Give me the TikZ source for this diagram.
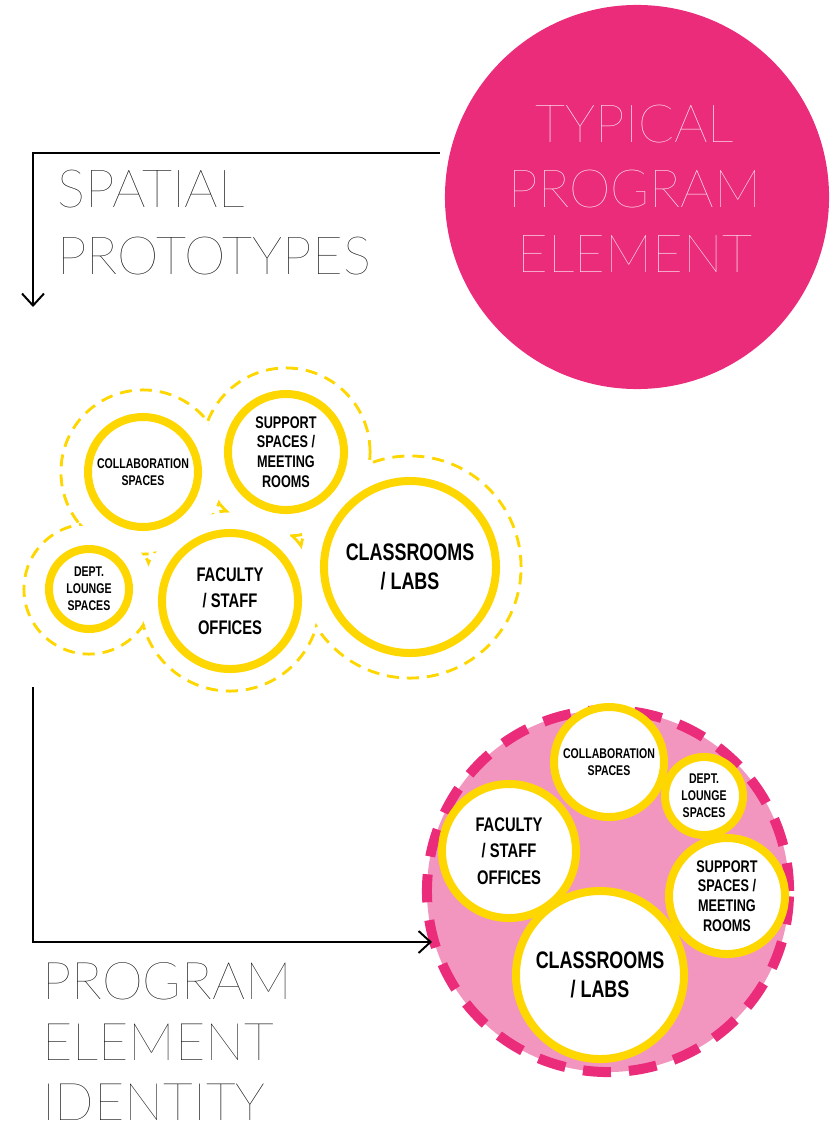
\documentclass[tikz,border=0pt]{standalone}
\usepackage{fontspec}
\setmainfont{Liberation Sans}
\newfontfamily\thinfont{Lato Hairline}
\newfontfamily\condfont{Liberation Sans}[FakeStretch=0.75]
\usetikzlibrary{arrows.meta, positioning}

\definecolor{hotpink}{HTML}{EA2C7B}
\definecolor{softpink}{HTML}{F396BF}
\definecolor{ringyellow}{HTML}{FFD700}

\tikzset{
  ring/.style={circle, draw=ringyellow, fill=white, line width=0.2cm, inner sep=0pt, align=center},
  halo/.style={circle, draw=ringyellow, dashed, dash pattern=on 0.3cm off 0.2cm, line width=0.075cm, inner sep=0pt},
  lblXL/.style={font=\condfont\bfseries\fontsize{17}{21}\selectfont},
  lblL/.style={font=\condfont\bfseries\fontsize{14}{19}\selectfont},
  lblM/.style={font=\condfont\bfseries\fontsize{12}{14}\selectfont},
  lblS/.style={font=\condfont\bfseries\fontsize{10}{12}\selectfont},
  bigword/.style={font=\thinfont\fontsize{37.5}{45}\selectfont, inner sep=0pt},
  flow/.style={line width=1.4pt, -{Straight Barb[length=3mm,width=5.5mm]}}
}

\begin{document}
\begin{tikzpicture}[x=0.025cm, y=-0.025cm]
  \useasboundingbox (0,0) rectangle (829,1129);

  % Typical program element
  \node[circle, fill=hotpink, minimum size=9.6cm, inner sep=0pt] (typical) at (637,197) {};
  \node[bigword, text=white, anchor=base] (ty1) at (635,143) {TYPICAL};
  \node[bigword, text=white, anchor=base] (ty2) at (635,208) {PROGRAM};
  \node[bigword, text=white, anchor=base] (ty3) at (635,272) {ELEMENT};

  % Spatial prototypes
  \coordinate (topstart) at (440,153);
  \coordinate (topend) at (33,307);
  \draw[flow] (topstart) -| (topend);
  \node[bigword, anchor=base west] (sp1) at (57,208) {SPATIAL};
  \node[bigword, anchor=base west] (sp2) at (57,275) {PROTOTYPES};

  % Dashed halos of the cluster
  \node[halo, minimum size=4.1cm] (hcollab) at (143,472) {};
  \node[halo, minimum size=4.2cm] (hsup) at (286,452) {};
  \node[halo, minimum size=3.25cm] (hdept) at (89,589) {};
  \node[halo, minimum size=4.5cm] (hfac) at (230,601) {};
  \node[halo, minimum size=5.55cm] (hclass) at (410,567) {};
  \foreach \h/\r in {hcollab/82, hsup/84, hdept/65, hfac/90, hclass/111}
    \fill[white] (\h.center) circle[radius=\r*0.025cm-0.04cm];

  % Cluster rings
  \node[ring, lblS, minimum size=2.75cm] (ucollab) at (143,472) {COLLABORATION\\SPACES};
  \node[ring, lblM, minimum size=2.9cm] (usup) at (286,452) {SUPPORT\\SPACES /\\MEETING\\ROOMS};
  \node[ring, lblS, minimum size=2cm] (udept) at (89,589) {DEPT.\\LOUNGE\\SPACES};
  \node[ring, lblL, minimum size=3.4cm] (ufac) at (230,601) {FACULTY\\/ STAFF\\OFFICES};
  \node[ring, lblXL, minimum size=4.3cm] (uclass) at (410,567) {CLASSROOMS\\/ LABS};

  % Program element identity
  \node[circle, fill=softpink, draw=hotpink, line width=0.25cm, dashed, dash pattern=on 0.7cm off 0.45cm,
        minimum size=9.05cm, inner sep=0pt] (identity) at (608,891) {};
  \node[ring, lblS, minimum size=2.75cm] (lcollab) at (609,762) {COLLABORATION\\SPACES};
  \node[ring, lblS, minimum size=1.95cm] (ldept) at (704,796) {DEPT.\\LOUNGE\\SPACES};
  \node[ring, lblL, minimum size=3.35cm] (lfac) at (509,851) {FACULTY\\/ STAFF\\OFFICES};
  \node[ring, lblM, minimum size=2.9cm] (lsup) at (727,896) {SUPPORT\\SPACES /\\MEETING\\ROOMS};
  \node[ring, lblXL, minimum size=4.2cm] (lclass) at (600,975) {CLASSROOMS\\/ LABS};

  \coordinate (botstart) at (33,687);
  \coordinate (botend) at (432,942);
  \draw[flow] (botstart) |- (botend);
  \node[bigword, anchor=base west, font=\thinfont\fontsize{37}{45}\selectfont] (pe1) at (42,999) {PROGRAM};
  \node[bigword, anchor=base west, font=\thinfont\fontsize{37}{45}\selectfont] (pe2) at (42,1060) {ELEMENT};
  \node[bigword, anchor=base west, font=\thinfont\fontsize{37}{45}\selectfont] (pe3) at (42,1120) {IDENTITY};
\end{tikzpicture}
\end{document}
